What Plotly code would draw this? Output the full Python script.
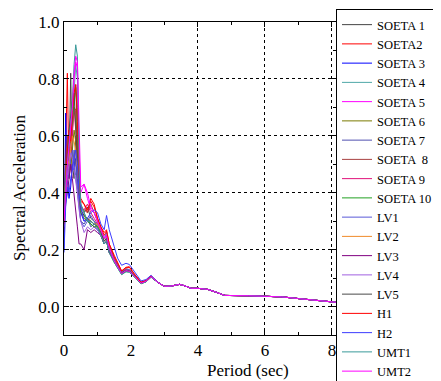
import plotly.graph_objects as go

# Period grid (sec): short-period portion differs per record, long-period tail shared
period_head = [0.0, 0.05, 0.1, 0.15, 0.2, 0.25, 0.3, 0.35, 0.4, 0.45, 0.5, 0.6, 0.7, 0.8, 0.9,
               1.0, 1.1, 1.2, 1.27, 1.35, 1.5, 1.6, 1.72, 1.85, 1.95, 2.1, 2.3, 2.45, 2.6]
period_tail = [2.8, 3.0, 3.2, 3.45, 3.6, 3.8, 4.0, 4.3, 4.55, 4.8, 5.5, 6.0, 6.5, 7.0, 7.5, 8.0, 8.12]
sa_tail = [0.085, 0.071, 0.072, 0.078, 0.073, 0.064, 0.064, 0.060, 0.050, 0.039,
           0.038, 0.036, 0.034, 0.028, 0.023, 0.016, 0.015]

names = ["SOETA 1", "SOETA2", "SOETA 3", "SOETA 4", "SOETA 5", "SOETA 6", "SOETA 7", "SOETA  8",
         "SOETA 9", "SOETA 10", "LV1", "LV2", "LV3", "LV4", "LV5", "H1", "H2", "UMT1", "UMT2"]

colors = ["#444444", "#ff0000", "#0000ff", "#4fa8a8", "#ff00ff", "#7a7a00", "#5050b0", "#a84040",
          "#e0107a", "#22a022", "#5a5ad8", "#f08a2a", "#800080", "#a060e0", "#4a4a4a",
          "#ff0000", "#3c3cff", "#3a9a9a", "#ff00ff"]

soeta1 = [0.30, 0.42, 0.55, 0.48, 0.82, 0.50, 0.45, 0.60, 0.52, 0.40, 0.36, 0.33, 0.35, 0.31, 0.30, 0.28, 0.26, 0.23, 0.24, 0.20, 0.16, 0.14, 0.118, 0.128, 0.126, 0.108, 0.082, 0.089, 0.105]
soeta2 = [0.28, 0.55, 0.82, 0.45, 0.50, 0.62, 0.70, 0.69, 0.55, 0.42, 0.38, 0.36, 0.33, 0.38, 0.36, 0.31, 0.28, 0.26, 0.27, 0.22, 0.18, 0.155, 0.125, 0.138, 0.14, 0.115, 0.086, 0.092, 0.108]
soeta3 = [0.20, 0.68, 0.45, 0.38, 0.42, 0.50, 0.48, 0.52, 0.45, 0.38, 0.33, 0.30, 0.31, 0.29, 0.28, 0.27, 0.25, 0.22, 0.23, 0.19, 0.16, 0.14, 0.118, 0.128, 0.125, 0.108, 0.082, 0.088, 0.104]
soeta4 = [0.32, 0.45, 0.52, 0.60, 0.55, 0.62, 0.75, 0.85, 0.80, 0.48, 0.35, 0.33, 0.30, 0.30, 0.29, 0.29, 0.26, 0.23, 0.24, 0.20, 0.16, 0.14, 0.115, 0.125, 0.124, 0.106, 0.081, 0.088, 0.104]
soeta5 = [0.30, 0.40, 0.48, 0.55, 0.62, 0.70, 0.80, 0.86, 0.84, 0.55, 0.40, 0.43, 0.38, 0.34, 0.33, 0.30, 0.27, 0.24, 0.25, 0.21, 0.165, 0.145, 0.12, 0.13, 0.128, 0.11, 0.083, 0.09, 0.106]
soeta6 = [0.30, 0.45, 0.50, 0.55, 0.48, 0.55, 0.62, 0.58, 0.50, 0.40, 0.33, 0.31, 0.30, 0.29, 0.28, 0.28, 0.26, 0.23, 0.24, 0.20, 0.16, 0.142, 0.118, 0.127, 0.125, 0.107, 0.082, 0.089, 0.105]
soeta7 = [0.28, 0.40, 0.45, 0.52, 0.50, 0.48, 0.55, 0.50, 0.42, 0.36, 0.30, 0.29, 0.31, 0.28, 0.29, 0.28, 0.25, 0.23, 0.24, 0.20, 0.16, 0.14, 0.118, 0.127, 0.125, 0.107, 0.082, 0.088, 0.104]
soeta8 = [0.30, 0.50, 0.60, 0.55, 0.58, 0.65, 0.70, 0.62, 0.50, 0.40, 0.35, 0.34, 0.33, 0.36, 0.33, 0.30, 0.27, 0.24, 0.25, 0.21, 0.17, 0.148, 0.122, 0.132, 0.13, 0.111, 0.084, 0.09, 0.106]
soeta9 = [0.29, 0.38, 0.46, 0.52, 0.56, 0.60, 0.72, 0.78, 0.70, 0.45, 0.35, 0.34, 0.36, 0.33, 0.31, 0.29, 0.26, 0.24, 0.25, 0.21, 0.165, 0.145, 0.12, 0.13, 0.128, 0.11, 0.083, 0.09, 0.106]
soeta10 = [0.31, 0.44, 0.50, 0.58, 0.60, 0.66, 0.72, 0.77, 0.60, 0.42, 0.33, 0.32, 0.30, 0.29, 0.28, 0.28, 0.25, 0.22, 0.23, 0.19, 0.155, 0.138, 0.113, 0.123, 0.122, 0.105, 0.08, 0.087, 0.103]
lv1 = [0.27, 0.42, 0.48, 0.45, 0.52, 0.55, 0.50, 0.46, 0.40, 0.35, 0.30, 0.28, 0.30, 0.32, 0.30, 0.29, 0.26, 0.24, 0.26, 0.21, 0.17, 0.145, 0.12, 0.132, 0.13, 0.11, 0.084, 0.09, 0.106]
lv2 = [0.30, 0.45, 0.52, 0.50, 0.56, 0.60, 0.58, 0.55, 0.48, 0.40, 0.34, 0.32, 0.31, 0.30, 0.29, 0.29, 0.26, 0.23, 0.24, 0.20, 0.162, 0.142, 0.118, 0.128, 0.126, 0.108, 0.082, 0.089, 0.105]
lv3 = [0.26, 0.36, 0.40, 0.45, 0.50, 0.45, 0.40, 0.35, 0.28, 0.22, 0.22, 0.20, 0.27, 0.26, 0.27, 0.26, 0.25, 0.22, 0.23, 0.19, 0.158, 0.14, 0.118, 0.127, 0.125, 0.107, 0.082, 0.088, 0.104]
lv4 = [0.28, 0.40, 0.46, 0.50, 0.54, 0.52, 0.48, 0.45, 0.40, 0.34, 0.30, 0.26, 0.28, 0.27, 0.28, 0.27, 0.25, 0.23, 0.24, 0.20, 0.16, 0.142, 0.118, 0.128, 0.126, 0.108, 0.082, 0.089, 0.105]
lv5 = [0.30, 0.46, 0.55, 0.62, 0.68, 0.72, 0.75, 0.65, 0.52, 0.40, 0.34, 0.32, 0.31, 0.30, 0.29, 0.28, 0.26, 0.23, 0.24, 0.20, 0.16, 0.142, 0.118, 0.128, 0.126, 0.108, 0.082, 0.089, 0.105]
h1 = [0.29, 0.45, 0.55, 0.62, 0.58, 0.68, 0.75, 0.78, 0.65, 0.45, 0.37, 0.36, 0.34, 0.37, 0.35, 0.31, 0.28, 0.25, 0.265, 0.22, 0.175, 0.152, 0.125, 0.136, 0.138, 0.114, 0.085, 0.091, 0.107]
h2 = [0.19, 0.35, 0.42, 0.40, 0.45, 0.48, 0.52, 0.55, 0.50, 0.40, 0.35, 0.30, 0.31, 0.33, 0.34, 0.33, 0.29, 0.27, 0.32, 0.27, 0.21, 0.17, 0.145, 0.152, 0.148, 0.125, 0.09, 0.095, 0.11]
umt1 = [0.31, 0.44, 0.50, 0.58, 0.64, 0.72, 0.85, 0.92, 0.88, 0.50, 0.36, 0.33, 0.30, 0.30, 0.29, 0.28, 0.25, 0.22, 0.23, 0.19, 0.155, 0.136, 0.112, 0.122, 0.12, 0.104, 0.08, 0.087, 0.103]
umt2 = [0.30, 0.42, 0.50, 0.56, 0.62, 0.70, 0.82, 0.88, 0.86, 0.60, 0.42, 0.43, 0.40, 0.35, 0.33, 0.30, 0.27, 0.24, 0.25, 0.205, 0.16, 0.14, 0.116, 0.126, 0.124, 0.107, 0.082, 0.089, 0.105]

series_heads = [soeta1, soeta2, soeta3, soeta4, soeta5, soeta6, soeta7, soeta8, soeta9, soeta10,
                lv1, lv2, lv3, lv4, lv5, h1, h2, umt1, umt2]

FONT = "Liberation Serif"

fig = go.Figure()
for name, color, head in zip(names, colors, series_heads):
    fig.add_trace(go.Scatter(
        x=period_head + period_tail, y=head + sa_tail, mode="lines", name=name,
        line=dict(color=color, width=1)))

axis_common = dict(
    showline=True, linecolor="black", linewidth=1, mirror="ticks",
    ticks="inside", ticklen=5, tickcolor="black",
    showgrid=True, gridcolor="black", gridwidth=1, griddash="dot",
    zeroline=False, tickfont=dict(family=FONT, size=17, color="black"),
)

fig.update_xaxes(range=[0, 8.12], tick0=0, dtick=2,
                 minor=dict(dtick=1, ticks="inside", ticklen=3, tickcolor="black", showgrid=False),
                 **axis_common)
fig.update_yaxes(range=[-0.1, 1.0], tick0=0, dtick=0.2, tickformat=".1f",
                 minor=dict(dtick=0.1, ticks="inside", ticklen=3, tickcolor="black", showgrid=False),
                 **axis_common)

fig.add_annotation(text="Period (sec)", xref="paper", yref="paper", x=0.678, y=-0.077,
                   xanchor="center", yanchor="top", showarrow=False,
                   font=dict(family=FONT, size=17, color="black"))
fig.add_annotation(text="Spectral Acceleration", xref="paper", yref="paper", x=-0.164, y=0.471,
                   xanchor="center", yanchor="middle", textangle=-90, showarrow=False,
                   font=dict(family=FONT, size=17, color="black"))

fig.update_layout(
    width=441, height=381,
    margin=dict(l=56, r=113, t=14, b=54, autoexpand=False),
    plot_bgcolor="white", paper_bgcolor="white",
    showlegend=True,
    legend=dict(x=1.0, y=1.0415, xanchor="left", yanchor="top",
                bgcolor="white", bordercolor="black", borderwidth=1,
                font=dict(family=FONT, size=12.5, color="black"),
                tracegroupgap=0, itemwidth=30, maxheight=381),
)

fig.write_html("out.html")
